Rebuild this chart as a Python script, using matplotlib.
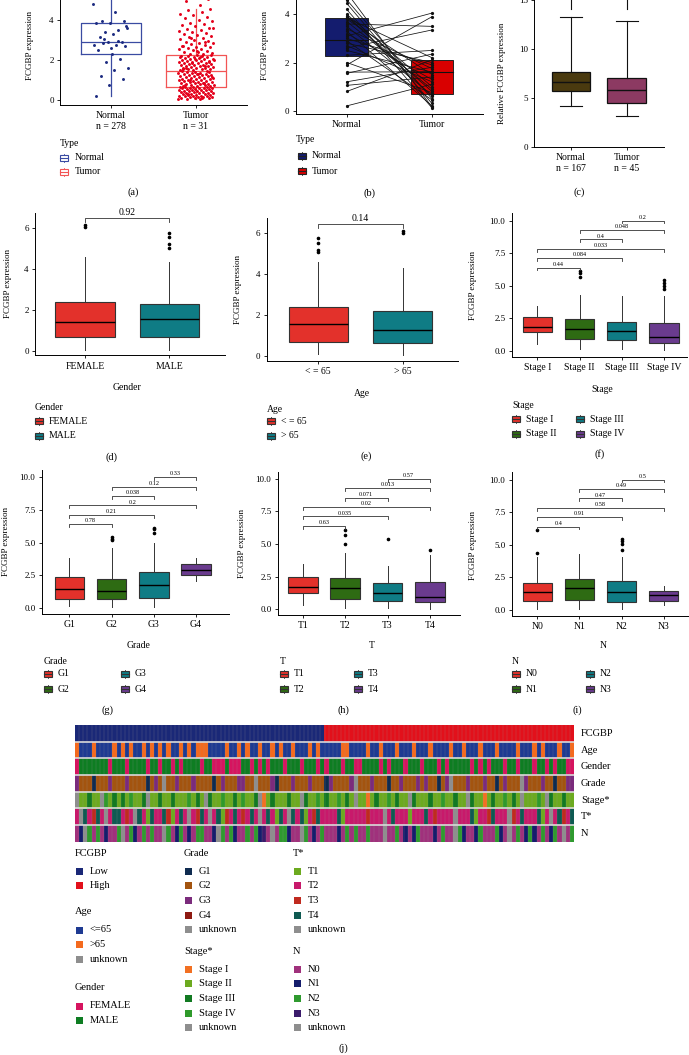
import numpy as np
import matplotlib.pyplot as plt
from matplotlib.patches import Rectangle
from matplotlib.colors import to_rgb

W, H = 689, 1055
plt.rcParams['font.family'] = ['Liberation Serif', 'DejaVu Serif']

# ---------------- data ----------------
# (a) jittered points
normal_a = [4.84, 4.40, 3.98, 3.95, 3.85, 3.88, 3.50, 3.43, 3.61, 3.31, 3.19, 2.92, 2.89,
            2.77, 2.74, 2.86, 2.69, 2.61, 2.50, 2.07, 1.90, 1.60, 1.51, 1.21, 1.06, 0.77,
            0.20, 2.95, 3.05, 3.70, 2.30]
tumor_a = [0.04, 0.06, 0.07, 0.09, 0.1, 0.12, 0.13, 0.14, 0.15, 0.16, 0.18, 0.19, 0.2, 0.21,
           0.22, 0.24, 0.25, 0.27, 0.28, 0.3, 0.31, 0.33, 0.34, 0.35, 0.37, 0.38, 0.4, 0.41,
           0.43, 0.44, 0.46, 0.47, 0.48, 0.5, 0.51, 0.52, 0.54, 0.55, 0.56, 0.58, 0.59, 0.6,
           0.61, 0.62, 0.63, 0.64, 0.65, 0.66, 0.11, 0.29,
           0.68, 0.7, 0.71, 0.73, 0.74, 0.76, 0.78, 0.79, 0.81, 0.83, 0.85, 0.86, 0.88, 0.9,
           0.92, 0.93, 0.95, 0.97, 0.99, 1.01, 1.03, 1.04, 1.06, 1.08, 1.1, 1.11, 1.13, 1.15,
           1.17, 1.19, 1.2, 1.22, 1.24, 1.26, 1.27, 1.29, 1.31, 1.33, 1.34, 1.36, 1.38, 1.4,
           1.41, 1.43, 1.44, 0.87, 1.02, 1.18, 1.3, 0.75,
           1.48, 1.5, 1.52, 1.54, 1.56, 1.58, 1.6, 1.62, 1.63, 1.65, 1.67, 1.69, 1.71, 1.73,
           1.75, 1.76, 1.78, 1.8, 1.82, 1.84, 1.86, 1.88, 1.9, 1.92, 1.94, 1.96, 1.98, 2.0,
           2.02, 2.04, 2.06, 2.08, 2.1, 2.12, 2.14, 2.16, 2.18, 2.2, 2.22, 2.24, 2.26, 1.55,
           1.7, 1.85, 2.0, 2.15, 1.6, 1.9, 2.05, 2.23,
           2.3, 2.33, 2.36, 2.4, 2.43, 2.47, 2.5, 2.54, 2.57, 2.6, 2.64, 2.68, 2.72, 2.76, 2.8,
           2.84, 2.88, 2.92, 2.96, 3.0, 3.05, 3.1, 3.15, 3.2, 3.25, 3.3, 3.35, 3.4, 3.46, 3.52,
           3.58, 3.64, 3.7, 3.76, 3.82, 3.88, 3.95, 4.02, 4.1, 4.18, 4.26, 4.34, 4.42, 4.5,
           4.57, 2.45, 2.7, 2.9, 3.12, 3.6, 4.75, 4.95, 5.1, 5.3]
# box stats: whislo, q1, med, q3, whishi
box_a = {'Normal': [0.20, 2.30, 2.91, 3.87, 5.8], 'Tumor': [0.05, 0.67, 1.46, 2.27, 4.57]}

# (b) paired samples
normal_b = [4.9, 4.6, 4.45, 4.2, 4.0, 3.95, 3.9, 3.85, 3.8, 3.7, 3.6, 3.5, 3.4, 3.3, 3.2, 3.1,
            3.0, 2.9, 2.8, 2.7, 2.6, 2.5, 2.3, 2.0, 1.9, 1.6, 1.55, 1.2, 1.05, 0.8, 0.2]
tumor_b = [0.15, 0.5, 0.3, 0.12, 1.0, 0.6, 0.8, 2.2, 1.5, 0.9, 3.5, 0.65, 1.75, 0.2, 1.3, 4.05,
           1.9, 0.45, 2.0, 1.2, 3.35, 1.6, 2.5, 0.75, 3.9, 1.62, 2.35, 1.8, 1.4, 2.1, 1.1]
box_b = {'Normal': [2.28, 2.93, 3.86], 'Tumor': [0.68, 1.62, 2.09]}

# (c)
box_c = {'Normal': [4.2, 5.75, 6.6, 7.65, 13.3], 'Tumor': [3.1, 4.5, 5.8, 7.0, 12.9]}

# (d)-(i): whislo, q1, med, q3, whishi, outliers
gender_cats = ['FEMALE', 'MALE']
gender_box = [[0.05, 0.68, 1.43, 2.40, 4.6, [6.05, 6.15]],
              [0.05, 0.70, 1.55, 2.29, 4.36, [5.0, 5.2, 5.55, 5.74]]]
age_cats = ['< = 65', '> 65']
age_box = [[0.1, 0.69, 1.54, 2.39, 4.58, [5.07, 5.2, 5.53, 5.75]],
           [0.05, 0.61, 1.24, 2.18, 4.31, [6.0, 6.1]]]
stage_cats = ['Stage I', 'Stage II', 'Stage III', 'Stage IV']
stage_box = [[0.51, 1.48, 1.84, 2.63, 3.45, []],
             [0.13, 0.92, 1.66, 2.43, 4.3, [5.7, 6.0, 6.13]],
             [0.13, 0.84, 1.53, 2.25, 4.25, []],
             [0.05, 0.59, 1.05, 2.12, 4.2, [4.75, 5.0, 5.25, 5.45]]]
grade_cats = ['G1', 'G2', 'G3', 'G4']
grade_box = [[0.13, 0.64, 1.43, 2.33, 3.79, []],
             [0.08, 0.64, 1.28, 2.18, 4.6, [5.17, 5.3, 5.45]],
             [0.05, 0.77, 1.76, 2.71, 4.98, [5.75, 6.0, 6.1]],
             [2.05, 2.5, 2.92, 3.33, 3.79, []]]
t_cats = ['T1', 'T2', 'T3', 'T4']
t_box = [[0.35, 1.25, 1.69, 2.5, 3.45, []],
         [0.08, 0.77, 1.6, 2.38, 4.32, [5.01, 5.73, 6.09]],
         [0.13, 0.64, 1.23, 2.0, 3.35, [5.4]],
         [0.05, 0.54, 0.97, 2.12, 4.17, [4.55]]]
n_cats = ['N0', 'N1', 'N2', 'N3']
n_box = [[0.1, 0.69, 1.35, 2.09, 4.1, [4.35, 6.12]],
         [0.05, 0.74, 1.66, 2.37, 4.28, []],
         [0.05, 0.64, 1.35, 2.22, 4.08, [4.59, 5.05, 5.3, 5.48]],
         [0.38, 0.71, 1.12, 1.48, 1.86, []]]

# pairwise p-values (i, j, p) in drawing order bottom -> top
pairs_d = [(0, 1, '0.92')]
pairs_e = [(0, 1, '0.14')]
pairs_f = [(0, 1, '0.44'), (0, 2, '0.084'), (0, 3, '0.033'), (1, 2, '0.4'), (1, 3, '0.048'), (2, 3, '0.2')]
pairs_g = [(0, 1, '0.78'), (0, 2, '0.21'), (0, 3, '0.2'), (1, 2, '0.038'), (1, 3, '0.12'), (2, 3, '0.33')]
pairs_h = [(0, 1, '0.63'), (0, 2, '0.035'), (0, 3, '0.02'), (1, 2, '0.071'), (1, 3, '0.013'), (2, 3, '0.57')]
pairs_i = [(0, 1, '0.4'), (0, 2, '0.91'), (0, 3, '0.58'), (1, 2, '0.47'), (1, 3, '0.49'), (2, 3, '0.5')]

# (j) heatmap rows, one character per sample column
hm_rows = ['FCGBP', 'Age', 'Gender', 'Grade', 'Stage*', 'T*', 'N']
hm_fcgbp = '0' * 60 + '1' * 60
hm_age = ''.join(['1000100001', '0101001010', '1010010101', '1100001001', '0100100101', '0010001010',
                  '0000110000', '1001000100', '0100010000', '1001000100', '0100001000', '1010001001'])
hm_gender = ''.join(['0111111101', '1101111011', '0110101111', '0110001000', '1101010111', '0111011101',
                     '0111011001', '1110101110', '1110111010', '1111101010', '1110110111', '0110101100'])
hm_grade = ''.join(['2111011121', '1121111012', '1u11211121', '1110121112', '211u111201', '1121112111',
                    '0211112u11', '1211101121', '1121211012', 'u111211121', '1012111u21', '1121101122'])
hm_stage = ''.join(['u11211u312', '1213112u11', '2112111312', '1u21131121', '3112u01211', '1211u21131',
                    '2113121u11', '0121131211', 'u211121131', '1211u21101', '2113121u11', '131u211211'])
hm_t = ''.join(['1u31231u13', '3121u31031', '1320131u12', '31u1302131', '2131u13103', '1u31301231',
                '1113011111', '2111u13111', '0111312111', '1u11130112', '3111u21311', '1301u13213'])
hm_n = ''.join(['01u2020100', '2u02102020', '0u20120102', '2001u20210', '0202130u02', '2100u20102',
                '0001020200', '2000u00201', '0120001020', '0u21001200', '0210u02012', '1020120u02'])

# ---------------- helpers ----------------
fig = plt.figure(figsize=(W / 100, H / 100), dpi=100)
ov = fig.add_axes([0, 0, 1, 1], zorder=5)
ov.set_xlim(0, W)
ov.set_ylim(H, 0)
ov.axis('off')
ov.patch.set_alpha(0)


def panel(x0, x1, xlim, p0, k, ylim):
    # p0: pixel row of value 0, k: pixels per unit
    y0 = p0 - k * ylim[1]
    y1 = p0 - k * ylim[0]
    ax = fig.add_axes([x0 / W, 1 - y1 / H, (x1 - x0) / W, (y1 - y0) / H])
    ax.set_xlim(*xlim)
    ax.set_ylim(*ylim)
    for s in ['top', 'right']:
        ax.spines[s].set_visible(False)
    for s in ['left', 'bottom']:
        ax.spines[s].set_linewidth(0.7)
    ax.tick_params(length=2.5, width=0.6, labelsize=6.5, pad=2)
    ax.patch.set_alpha(0)
    return ax


def txt(x, y, s, fs=7, ha='left', **kw):
    ov.text(x, y, s, fontsize=fs, ha=ha, va='center', **kw)


def key(x, y, face, edge, filled=True):
    w, h = 8, 6
    ov.add_patch(Rectangle((x - w / 2, y - h / 2), w, h, facecolor=face if filled else 'white',
                           edgecolor=edge, lw=0.8))
    ov.plot([x - w / 2, x + w / 2], [y, y], color=edge, lw=0.8)
    ov.plot([x, x], [y - h / 2 - 1.2, y - h / 2], color=edge, lw=0.6)
    ov.plot([x, x], [y + h / 2, y + h / 2 + 1.2], color=edge, lw=0.6)


def draw_boxes(ax, stats, colors, width=0.7):
    st = [dict(whislo=s[0], q1=s[1], med=s[2], q3=s[3], whishi=s[4], fliers=s[5]) for s in stats]
    bp = ax.bxp(st, positions=range(1, len(st) + 1), widths=width, patch_artist=True,
                boxprops=dict(edgecolor='#333333', lw=0.8),
                medianprops=dict(color='black', lw=1.0),
                whiskerprops=dict(color='#333333', lw=0.7),
                capprops=dict(lw=0),
                flierprops=dict(marker='o', markersize=1.6, markerfacecolor='black',
                                markeredgecolor='black'))
    for b, c in zip(bp['boxes'], colors):
        b.set_facecolor(c)


def brackets(ax, pairs, ystart, step, leg, fs):
    for n, (i, j, p) in enumerate(pairs):
        y = ystart + n * step
        ax.plot([i + 1, i + 1, j + 1, j + 1], [y - leg, y, y, y - leg], color='#333333', lw=0.6,
                clip_on=False)
        ax.text((i + j) / 2 + 1, y + leg * 0.3, p, ha='center', va='bottom', fontsize=fs)


# ---------------- (a) ----------------
ax = panel(60, 247, (0.4, 2.6), 100, 19.9, (-0.25, 5.6))
for pos, key_ in [(1, 'Normal'), (2, 'Tumor')]:
    s = box_a[key_]
    col = '#3A4BA2' if pos == 1 else '#F25454'
    ax.bxp([dict(whislo=s[0], q1=s[1], med=s[2], q3=s[3], whishi=s[4], fliers=[])],
           positions=[pos], widths=0.7, showcaps=False,
           boxprops=dict(color=col, lw=0.9), medianprops=dict(color=col, lw=0.9),
           whiskerprops=dict(color=col, lw=0.9))
jit_n = ((np.arange(len(normal_a)) * 0.618034) % 1 - 0.5) * 0.42
jit_t = ((np.arange(len(tumor_a)) * 0.618034) % 1 - 0.5) * 0.42
ax.scatter(1 + jit_n, normal_a, s=4.5, color='#1B2A80', zorder=3, lw=0)
ax.scatter(2 + jit_t, tumor_a, s=4.5, color='#E4001A', zorder=3, lw=0)
ax.set_xticks([1, 2])
ax.set_xticklabels(['Normal\nn = 278', 'Tumor\nn = 31'], fontsize=7, linespacing=1.3)
ax.set_yticks([0, 2, 4])
txt(30, 46, 'FCGBP expression', fs=6.5, ha='center', rotation=90)
txt(60, 143, 'Type', fs=7)
key(64, 158, 'white', '#3A4BA2', filled=False)
txt(75, 158, 'Normal', fs=7)
key(64, 172, 'white', '#F25454', filled=False)
txt(75, 172, 'Tumor', fs=7)
txt(133, 192, '(a)', fs=7.5, ha='center')

# ---------------- (b) ----------------
ax = panel(295.7, 483, (0.4, 2.6), 110.7, 24.1, (-0.14, 5.0))
for pos, key_, c in [(1, 'Normal', '#141C6E'), (2, 'Tumor', '#D90000')]:
    q1, med, q3 = box_b[key_]
    ax.add_patch(Rectangle((pos - 0.25, q1), 0.5, q3 - q1, facecolor=c, edgecolor='#222222', lw=0.7))
    ax.plot([pos - 0.25, pos + 0.25], [med, med], color='#111111', lw=0.8)
for a_, b_ in zip(normal_b, tumor_b):
    ax.plot([1, 2], [a_, b_], color='#111111', lw=0.55, marker='o', markersize=1.3)
ax.set_xticks([1, 2])
ax.set_xticklabels(['Normal', 'Tumor'], fontsize=7)
ax.set_yticks([0, 2, 4])
txt(265, 46, 'FCGBP expression', fs=6.5, ha='center', rotation=90)
txt(296, 140, 'Type', fs=7)
key(302, 156, '#141C6E', '#222222')
txt(312, 156, 'Normal', fs=7)
key(302, 171, '#D90000', '#222222')
txt(312, 171, 'Tumor', fs=7)
txt(369, 193, '(b)', fs=7.5, ha='center')

# ---------------- (c) ----------------
ax = panel(534, 664, (0.336, 2.67), 146.7, 9.75, (0, 16.5))
st = [dict(whislo=s[0], q1=s[1], med=s[2], q3=s[3], whishi=s[4], fliers=[]) for s in box_c.values()]
bp = ax.bxp(st, positions=[1, 2], widths=0.69, patch_artist=True, capwidths=0.4,
            boxprops=dict(edgecolor='#111111', lw=0.9), medianprops=dict(color='#111111', lw=1.0),
            whiskerprops=dict(color='#111111', lw=0.8), capprops=dict(color='#111111', lw=0.8))
for b, c in zip(bp['boxes'], ['#4A3A0F', '#8C3A62']):
    b.set_facecolor(c)
ax.plot([1, 1, 2, 2], [14.15, 15.9, 15.9, 14.15], color='#111111', lw=0.8)
ax.set_xticks([1, 2])
ax.set_xticklabels(['Normal\nn = 167', 'Tumor\nn = 45'], fontsize=7, linespacing=1.3)
ax.set_yticks([0, 5, 10, 15])
txt(502, 73, 'Relative FCGBP expression', fs=6.5, ha='center', rotation=90)
txt(579, 192, '(c)', fs=7.5, ha='center')

red, teal, green, purple = '#E3312B', '#0F7C85', '#2E6B13', '#6A3B8E'

# ---------------- (d) ----------------
ax = panel(35, 225, (0.407, 2.66), 351, 20.5, (-0.21, 6.72))
draw_boxes(ax, gender_box, [red, teal])
brackets(ax, pairs_d, 6.47, 0, 0.17, 7)
ax.set_xticks([1, 2])
ax.set_xticklabels(gender_cats, fontsize=7)
ax.set_yticks([0, 2, 4, 6])
txt(8, 283, 'FCGBP expression', fs=6.5, ha='center', rotation=90)
txt(127, 388, 'Gender', fs=7, ha='center')
txt(35, 408, 'Gender', fs=7)
for n, (c, lab) in enumerate(zip([red, teal], gender_cats)):
    key(39, 421 + 15 * n, c, '#333333')
    txt(49, 421 + 15 * n, lab, fs=7)
txt(112, 457, '(d)', fs=7.5, ha='center')

# ---------------- (e) ----------------
ax = panel(266.7, 458.3, (0.388, 2.66), 355.7, 20.4, (-0.26, 6.73))
draw_boxes(ax, age_box, [red, teal])
brackets(ax, pairs_e, 6.45, 0, 0.17, 7)
ax.set_xticks([1, 2])
ax.set_xticklabels(age_cats, fontsize=7)
ax.set_yticks([0, 2, 4, 6])
txt(238.3, 290, 'FCGBP expression', fs=6.5, ha='center', rotation=90)
txt(362, 394, 'Age', fs=7, ha='center')
txt(267, 409, 'Age', fs=7)
for n, (c, lab) in enumerate(zip([red, teal], age_cats)):
    key(271, 421 + 15 * n, c, '#333333')
    txt(281, 421 + 15 * n, lab, fs=7)
txt(366, 456, '(e)', fs=7.5, ha='center')


def four_panel(x0, x1, xlim, p0, ylim, stats, cats, pairs, ylab_x, ylab_y, title, title_y,
               leg_x, col2_x, leg_y, letter, letter_xy):
    ax = panel(x0, x1, xlim, p0, 13.04, ylim)
    draw_boxes(ax, stats, [red, green, teal, purple])
    brackets(ax, pairs, 6.4, 0.72, 0.22, 4.5)
    ax.set_xticks([1, 2, 3, 4])
    ax.set_xticklabels(cats, fontsize=7)
    ax.set_yticks([0, 2.5, 5, 7.5, 10])
    ax.set_yticklabels(['0.0', '2.5', '5.0', '7.5', '10.0'])
    txt(ylab_x, ylab_y, 'FCGBP expression', fs=6.5, ha='center', rotation=90)
    txt((x0 + x1) / 2 + 3, title_y, title, fs=7, ha='center')
    txt(leg_x, leg_y, title, fs=7)
    cols = [red, green, teal, purple]
    for n in range(4):
        kx = leg_x + 4 if n < 2 else col2_x
        ky = leg_y + 13 + 15 * (n % 2)
        key(kx, ky, cols[n], '#333333')
        txt(kx + 10, ky, cats[n], fs=7)
    txt(letter_xy[0], letter_xy[1], letter, fs=7.5, ha='center')


four_panel(511.7, 686.7, (0.393, 4.54), 351, (-0.44, 10.56), stage_box, stage_cats, pairs_f,
           473, 285, 'Stage', 389, 512, 580, 406, '(f)', (600, 454))
four_panel(41.7, 229, (0.346, 4.78), 607.7, (-0.48, 10.55), grade_box, grade_cats, pairs_g,
           6, 542, 'Grade', 646, 44, 125, 661, '(g)', (108, 710))
four_panel(277.7, 460, (0.41, 4.71), 609.3, (-0.44, 10.55), t_box, t_cats, pairs_h,
           242, 543, 'T', 646, 280, 358, 661, '(h)', (343, 710))
four_panel(511.7, 689, (0.393, 4.6), 610, (-0.44, 10.55), n_box, n_cats, pairs_i,
           473, 545, 'N', 646, 512, 590, 661, '(i)', (577, 710))

# ---------------- (j) heatmap ----------------
hm_colors = {
    'FCGBP': {'0': '#1A2877', '1': '#E2101B'},
    'Age': {'0': '#1E3A92', '1': '#F46A1E', 'u': '#8E8E8E'},
    'Gender': {'0': '#D6145F', '1': '#0E7D22'},
    'Grade': {'0': '#0F2B50', '1': '#A3540F', '2': '#7B2B7C', '3': '#8E1A12', 'u': '#8E8E8E'},
    'Stage*': {'0': '#F27022', '1': '#6CAA1F', '2': '#127A22', '3': '#2F9A2B', 'u': '#8E8E8E'},
    'T*': {'0': '#6CAA1F', '1': '#C8196B', '2': '#C02A1F', '3': '#0F5A52', 'u': '#8E8E8E'},
    'N': {'0': '#A0317C', '1': '#151D6C', '2': '#2F9A2F', '3': '#3B1B6B', 'u': '#8E8E8E'},
}
hm_data = [hm_fcgbp, hm_age, hm_gender, hm_grade, hm_stage, hm_t, hm_n]
img = np.array([[to_rgb(hm_colors[name][ch]) for ch in row] for name, row in zip(hm_rows, hm_data)])
hx0, hx1, hy0, hy1 = 75, 574, 725, 841.7
hax = fig.add_axes([hx0 / W, 1 - hy1 / H, (hx1 - hx0) / W, (hy1 - hy0) / H])
ncol = img.shape[1]
hax.imshow(img, aspect='auto', interpolation='nearest', extent=(0, ncol, 7, 0))
for c in range(1, ncol):
    hax.axvline(c, color='#9a9a9a', lw=0.25, alpha=0.6)
for r in range(1, 7):
    hax.axhline(r, color='#d9d9d9', lw=1.2)
hax.set_xlim(0, ncol)
hax.set_ylim(7, 0)
hax.axis('off')
for r, name in enumerate(hm_rows):
    txt(581, hy0 + (r + 0.5) * (hy1 - hy0) / 7, name, fs=7.5)

legend_cols = [
    (75, [('FCGBP', 853, [('Low', '#1A2877'), ('High', '#E2101B')]),
          ('Age', 912, [('<=65', '#1E3A92'), ('>65', '#F46A1E'), ('unknown', '#8E8E8E')]),
          ('Gender', 988, [('FEMALE', '#D6145F'), ('MALE', '#0E7D22')])]),
    (184, [('Grade', 853, [('G1', '#0F2B50'), ('G2', '#A3540F'), ('G3', '#7B2B7C'), ('G4', '#8E1A12'),
                           ('unknown', '#8E8E8E')]),
           ('Stage*', 951, [('Stage I', '#F27022'), ('Stage II', '#6CAA1F'), ('Stage III', '#127A22'),
                            ('Stage IV', '#2F9A2B'), ('unknown', '#8E8E8E')])]),
    (293, [('T*', 853, [('T1', '#6CAA1F'), ('T2', '#C8196B'), ('T3', '#C02A1F'), ('T4', '#0F5A52'),
                        ('unknown', '#8E8E8E')]),
           ('N', 951, [('N0', '#A0317C'), ('N1', '#151D6C'), ('N2', '#2F9A2F'), ('N3', '#3B1B6B'),
                       ('unknown', '#8E8E8E')])]),
]
for lx, groups in legend_cols:
    for title, ty, items in groups:
        txt(lx, ty, title, fs=7.5)
        for n, (lab, c) in enumerate(items):
            yy = ty + 18 + 14.7 * n
            ov.add_patch(Rectangle((lx + 1, yy - 3.5), 7, 7, facecolor=c, edgecolor='none'))
            txt(lx + 15, yy, lab, fs=7.5)
txt(343, 1048, '(j)', fs=7.5, ha='center')

fig.savefig('out.png', dpi=100)
